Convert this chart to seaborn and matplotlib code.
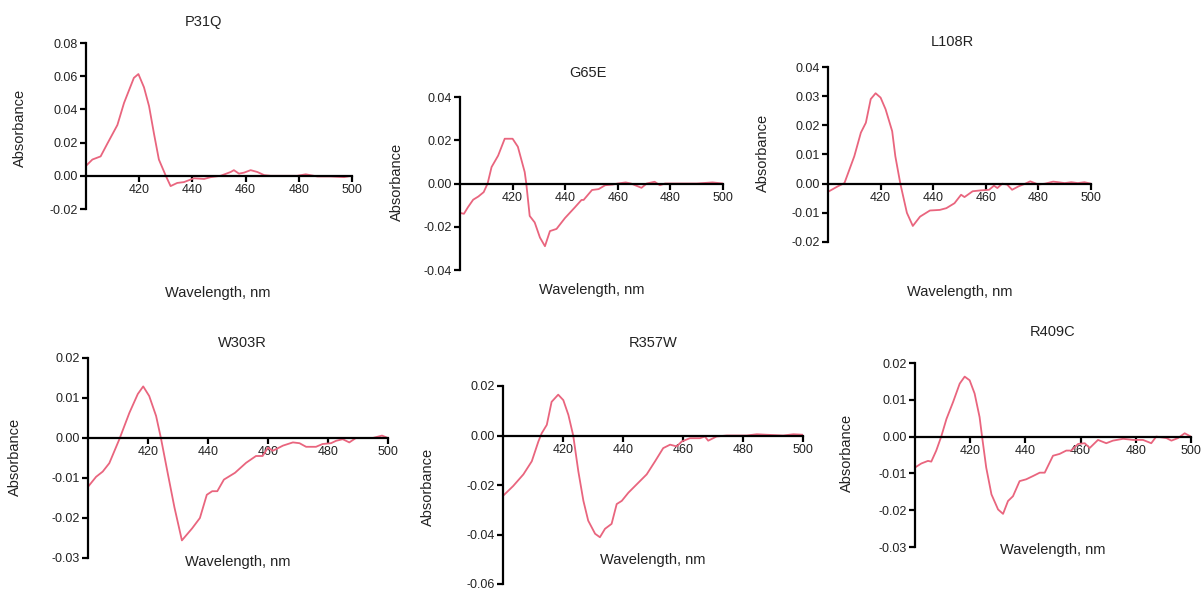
import numpy as np
import pandas as pd
import matplotlib
matplotlib.use("Agg")
import matplotlib.pyplot as plt
import seaborn as sns

# difference spectra (wavelength nm, absorbance)
wl_p31q = [400, 402.4, 405.5, 408, 411.8, 414.3, 418, 419.7, 421.8, 423.7, 425.6, 427.4, 430, 431.8,
           434.3, 436.8, 440.6, 444.4, 446.9, 450.6, 454.4, 455.6, 457.5, 459.4, 461.9, 464.4, 467,
           469.4, 474.4, 479.4, 482.6, 487, 492, 497, 500]
abs_p31q = [0.006, 0.0098, 0.0117, 0.0193, 0.0306, 0.0439, 0.059, 0.0613, 0.0533, 0.042, 0.025, 0.0098,
            0.0, -0.0062, -0.0043, -0.0038, -0.0015, -0.0019, -0.0008, 0.0, 0.0023, 0.0034, 0.0013,
            0.0019, 0.0034, 0.0023, 0.0004, 0.0, 0.0, 0.0, 0.0009, -0.0004, -0.0004, -0.0008, 0.0]

wl_g65e = [400, 401.5, 403, 405, 407, 409, 410.5, 412, 414.5, 417, 420, 422, 424.6, 425.2, 426.5,
           428.4, 430.4, 432.3, 434.2, 436.7, 439.9, 443.7, 446.2, 447, 450.2, 452.7, 455.2, 458,
           460, 463, 465, 467, 469, 471, 474, 476, 478, 482, 490, 496, 500]
abs_g65e = [-0.0136, -0.014, -0.011, -0.0075, -0.006, -0.004, 0.0, 0.0076, 0.0129, 0.0207, 0.0207,
            0.017, 0.0053, 0.0, -0.015, -0.018, -0.025, -0.029, -0.022, -0.021, -0.016, -0.011,
            -0.0076, -0.0076, -0.003, -0.0026, -0.0008, -0.0005, 0.0, 0.0005, 0.0, -0.001, -0.002,
            0.0, 0.0008, -0.0008, 0.0, 0.0, 0.0, 0.0005, 0.0]

wl_l108r = [400, 403.75, 406.25, 410, 412.5, 414.4, 416.25, 418.1, 420, 421.9, 424.4, 425.6, 427.5,
            430, 432.25, 435, 438.75, 442.5, 445, 448.1, 450.6, 451.9, 455, 458.1, 461.25, 463.1,
            464.4, 466.25, 468.1, 470, 472.5, 475, 476.9, 480, 482.5, 485.6, 487.5, 490, 492.5, 495,
            497.5, 500]
abs_l108r = [-0.0028, -0.0009, 0.0002, 0.0094, 0.0175, 0.0209, 0.029, 0.031, 0.0295, 0.0255, 0.018,
             0.0094, 0.0, -0.010, -0.0145, -0.0113, -0.0092, -0.009, -0.0084, -0.0067, -0.0038,
             -0.0046, -0.0026, -0.0023, -0.0021, -0.0007, -0.0015, 0.0, -0.0003, -0.0021, -0.0009,
             0.0, 0.0008, -0.0003, 0.0, 0.0007, 0.0005, 0.0002, 0.0005, 0.0002, 0.0005, 0.0]

wl_w303r = [400, 402.7, 404.9, 407.1, 410.4, 413.8, 416.6, 418.4, 420.4, 422.7, 424.3, 426.6, 428.8,
            431.3, 434.7, 437.3, 439.6, 441.4, 443.1, 445.3, 449, 452.7, 456, 458.2, 460, 461.6,
            465, 468.3, 470.5, 472.7, 476, 478.2, 481, 482.7, 484.9, 487.1, 489.3, 494.9, 498, 500]
abs_w303r = [-0.0122, -0.0097, -0.0084, -0.0063, -0.0004, 0.0063, 0.011, 0.0129, 0.0105, 0.0055, 0.0,
             -0.0089, -0.0173, -0.0256, -0.0226, -0.020, -0.0142, -0.0133, -0.0133, -0.0104,
             -0.0087, -0.0062, -0.0045, -0.0045, -0.0024, -0.0032, -0.0019, -0.0011, -0.0013,
             -0.0022, -0.0022, -0.0015, -0.0013, -0.0007, -0.0003, -0.0011, 0.0, 0.0, 0.0006, 0.0]

wl_r357w = [400, 403.4, 406.8, 409.6, 411.8, 412.9, 414.6, 416.2, 418.4, 420.1, 421.8, 423.4, 425.1,
            426.8, 428.4, 430.7, 432.3, 434, 436.2, 437.9, 439.6, 441.8, 444.6, 447.9, 450.7, 453.4,
            455.7, 457.9, 459.6, 462.3, 465.7, 467.3, 468.4, 471.2, 474.6, 481.2, 484.6, 487.9,
            493.4, 496.8, 500]
abs_r357w = [-0.0244, -0.0204, -0.0157, -0.0104, -0.0024, 0.0009, 0.0043, 0.0136, 0.0165, 0.0143,
             0.0083, 0.0, -0.0144, -0.0264, -0.0344, -0.0397, -0.0411, -0.0377, -0.0357, -0.0277,
             -0.0264, -0.0231, -0.0197, -0.0157, -0.0104, -0.0051, -0.0037, -0.0044, -0.0024,
             -0.0011, -0.0011, -0.0004, -0.0021, -0.0004, 0.0, 0.0, 0.0005, 0.0003, 0.0, 0.0005,
             0.0003]

wl_r409c = [400, 402.3, 404.7, 405.9, 407.7, 409.5, 411.4, 413.8, 416.2, 418, 419.8, 421.6, 423.4,
            424.3, 425.8, 427.7, 430.1, 431.9, 433.7, 435.5, 437.9, 440.3, 442.8, 445.2, 447, 450,
            452.4, 454.8, 456.6, 459.1, 461.5, 463.3, 466.3, 469.3, 471.7, 475.4, 479, 482.6, 485.6,
            487.4, 491.1, 492.9, 495.3, 497.7, 500]
abs_r409c = [-0.0084, -0.0073, -0.0066, -0.0068, -0.0038, 0.0, 0.0048, 0.0094, 0.0144, 0.0163,
             0.0153, 0.0117, 0.0053, 0.0, -0.0084, -0.0157, -0.0198, -0.021, -0.0175, -0.0162,
             -0.0121, -0.0116, -0.0107, -0.0098, -0.0098, -0.0052, -0.0047, -0.0038, -0.0038,
             -0.002, -0.0018, -0.0031, -0.0009, -0.0018, -0.0011, -0.0006, -0.0009, -0.0009,
             -0.0018, 0.0, -0.0004, -0.0011, -0.0004, 0.0009, 0.0]

titles = ["P31Q", "G65E", "L108R", "W303R", "R357W", "R409C"]
y_limits = [(-0.02, 0.08), (-0.04, 0.04), (-0.02, 0.04), (-0.03, 0.02), (-0.06, 0.02), (-0.03, 0.02)]
y_steps = [0.02, 0.02, 0.01, 0.01, 0.02, 0.01]
x_ticks = [420, 440, 460, 480, 500]

spectra = [(wl_p31q, abs_p31q), (wl_g65e, abs_g65e), (wl_l108r, abs_l108r),
           (wl_w303r, abs_w303r), (wl_r357w, abs_r357w), (wl_r409c, abs_r409c)]

# pixel layout of each panel: axes box (left, right, top, bottom), title, xlabel, ylabel positions
W, H = 1204, 592
boxes = [(86, 352, 43, 209), (460, 723, 97, 270), (828, 1091, 67, 242),
         (88, 388, 358, 558), (503, 803, 386, 584), (915, 1191, 363, 547)]
title_pos = [(203, 22), (588, 73), (952, 42), (242, 343), (653, 343), (1053, 332)]
xlabel_pos = [(218, 293), (592, 290), (960, 292), (238, 562), (653, 560), (1053, 550)]
ylabel_pos = [(20, 128), (397, 182), (763, 153), (15, 457), (428, 487), (847, 453)]

sns.set_style("ticks")
plt.rcParams["font.family"] = ["Liberation Sans", "DejaVu Sans"]
plt.rcParams["axes.unicode_minus"] = False

line_color = "#E9657E"
text_color = "#222222"

fig = plt.figure(figsize=(W / 100, H / 100), dpi=100)

for i in range(6):
    l, r, t, b = boxes[i]
    ax = fig.add_axes([l / W, 1 - b / H, (r - l) / W, (b - t) / H])
    wl, ab = spectra[i]
    df = pd.DataFrame({"wl": wl, "abs": ab})
    sns.lineplot(data=df, x="wl", y="abs", ax=ax, color=line_color, linewidth=1.3)
    ax.set_xlim(400, 500)
    ax.set_ylim(*y_limits[i])
    ax.set_xlabel("")
    ax.set_ylabel("")
    ax.set_xticks(x_ticks)
    lo, hi = y_limits[i]
    yt = np.round(np.arange(lo, hi + y_steps[i] / 2, y_steps[i]), 3)
    ax.set_yticks(yt)
    ax.set_yticklabels([f"{v:.2f}" for v in yt])
    ax.spines["top"].set_visible(False)
    ax.spines["right"].set_visible(False)
    ax.spines["bottom"].set_position(("data", 0))
    for s in ["left", "bottom"]:
        ax.spines[s].set_linewidth(1.6)
        ax.spines[s].set_color("black")
    ax.tick_params(axis="both", direction="out", length=4, width=1.6, color="black",
                   labelsize=9, labelcolor=text_color, pad=2)
    ax.patch.set_alpha(0)

    tx, ty = title_pos[i]
    fig.text(tx / W, 1 - ty / H, titles[i], ha="center", va="center", fontsize=10.5, color=text_color)
    xx, xy = xlabel_pos[i]
    fig.text(xx / W, 1 - xy / H, "Wavelength, nm", ha="center", va="center", fontsize=10.5,
             color=text_color)
    yx, yy = ylabel_pos[i]
    fig.text(yx / W, 1 - yy / H, "Absorbance", ha="center", va="center", rotation=90,
             fontsize=10.5, color=text_color)

fig.savefig("out.png", dpi=100)
